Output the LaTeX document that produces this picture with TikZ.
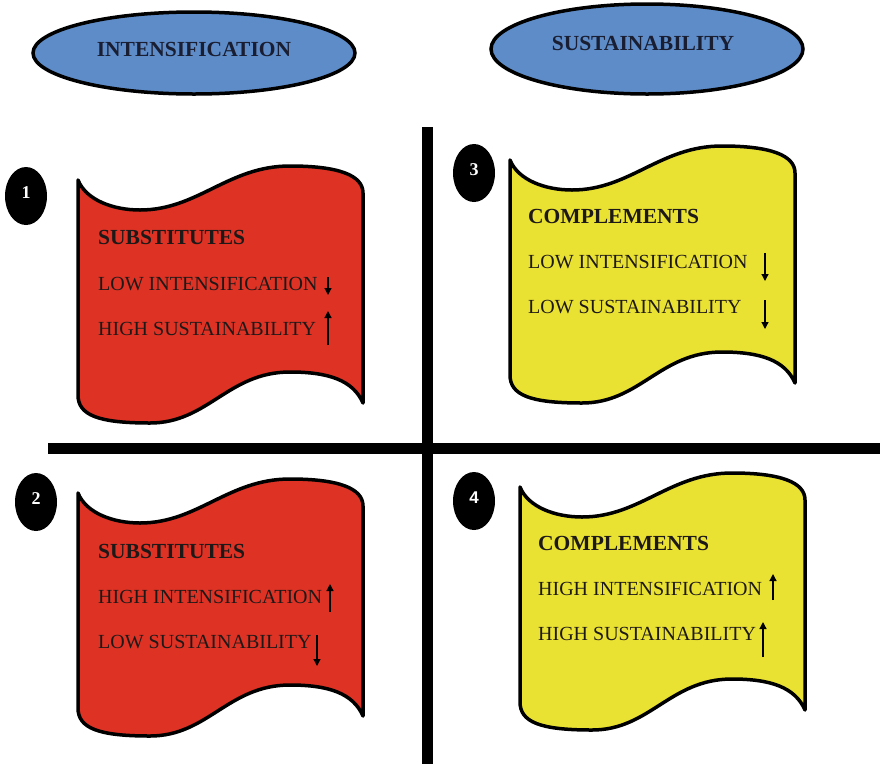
\documentclass[tikz,border=0pt]{standalone}
\usepackage{fontspec}
\setmainfont{Liberation Serif}
\newfontfamily\numsans{Liberation Sans}
\usetikzlibrary{arrows.meta,shapes.geometric}
\definecolor{flagred}{RGB}{222,50,36}
\definecolor{flagyellow}{RGB}{234,226,50}
\definecolor{ovalblue}{RGB}{94,140,200}
\definecolor{txtdark}{RGB}{30,25,25}
\definecolor{ovaltxt}{RGB}{25,30,50}
\tikzset{
  oval/.style={ellipse, draw=black, line width=3.5pt, fill=ovalblue, inner sep=0pt},
  ovaltext/.style={font=\fontsize{21.5}{24}\selectfont\bfseries, text=ovaltxt, inner sep=0pt},
  bannerline/.style={draw=black, line width=3.5pt, line join=round},
  headtext/.style={font=\fontsize{21.5}{24}\selectfont\bfseries, text=txtdark, anchor=base west, inner sep=0pt},
  itemtext/.style={font=\fontsize{20}{24}\selectfont, text=txtdark, anchor=base west, inner sep=0pt},
  numoval/.style={ellipse, fill=black, minimum width=42pt, minimum height=58pt, inner sep=0pt},
  numtext/.style={font=\fontsize{18}{20}\selectfont\bfseries, text=white, inner sep=0pt},
  trendarrow/.style={-{Triangle[width=7pt,length=7pt]}, line width=1.3pt, black},
  divider/.style={line width=10.5pt, black, line cap=butt}
}
\newcommand{\wavebanner}[3]{%
  \path[bannerline, fill=#3, shift={(#1,#2)}]
    (0,0) .. controls (8,20) and (35,30) .. (62,30)
    .. controls (120,30) and (150,-14) .. (212,-14)
    .. controls (260,-14) and (285,-5) .. (285,13)
    -- (285,223)
    .. controls (275,200) and (250,192) .. (212,192)
    .. controls (150,192) and (130,243) .. (72,243)
    .. controls (20,243) and (0,235) .. (0,215)
    -- cycle;}
\begin{document}
\begin{tikzpicture}[x=1pt,y=-1pt]
\useasboundingbox (0,0) rectangle (880,764);

% header ovals
\node[oval, minimum width=322pt, minimum height=82pt] (ovalA) at (194,53) {};
\node[ovaltext] (ovalAtext) at (194,49) {INTENSIFICATION};
\node[oval, minimum width=312pt, minimum height=90pt] (ovalB) at (647,49) {};
\node[ovaltext] (ovalBtext) at (643,43) {SUSTAINABILITY};

% dividers
\coordinate (vtop) at (427.5,127);
\coordinate (vbot) at (427.5,764);
\coordinate (hleft) at (48,448.5);
\coordinate (hright) at (880,448.5);
\draw[divider] (vtop) -- (vbot);
\draw[divider] (hleft) -- (hright);

% banners
\wavebanner{78}{180}{flagred}
\wavebanner{78}{493}{flagred}
\wavebanner{510}{160}{flagyellow}
\wavebanner{520}{487}{flagyellow}

% number badges
\node[numoval] (n1) at (26,196) {};
\node[numtext] (n1t) at (26,193) {1};
\node[numoval] (n2) at (36,502) {};
\node[numtext] (n2t) at (36,499) {2};
\node[numoval] (n3) at (474,173) {};
\node[numtext] (n3t) at (474,170) {3};
\node[numoval] (n4) at (474,501) {};
\node[numtext, font=\fontsize{17}{20}\selectfont\numsans\bfseries] (n4t) at (474,498) {4};

% quadrant 1
\node[headtext] (q1h) at (98,244) {SUBSTITUTES};
\node[itemtext] (q1a) at (98,290) {LOW INTENSIFICATION};
\node[itemtext] (q1b) at (98,335) {HIGH SUSTAINABILITY};
\coordinate (q1a1) at (328,277); \coordinate (q1a2) at (328,295);
\coordinate (q1b1) at (328,345); \coordinate (q1b2) at (328,311);
\draw[trendarrow] (q1a1) -- (q1a2);
\draw[trendarrow] (q1b1) -- (q1b2);

% quadrant 3
\node[headtext] (q3h) at (528,223) {COMPLEMENTS};
\node[itemtext] (q3a) at (528,268) {LOW INTENSIFICATION};
\node[itemtext] (q3b) at (528,313) {LOW SUSTAINABILITY};
\coordinate (q3a1) at (765,253); \coordinate (q3a2) at (765,281);
\coordinate (q3b1) at (765,300); \coordinate (q3b2) at (765,329);
\draw[trendarrow] (q3a1) -- (q3a2);
\draw[trendarrow] (q3b1) -- (q3b2);

% quadrant 2
\node[headtext] (q2h) at (98,558) {SUBSTITUTES};
\node[itemtext] (q2a) at (98,603) {HIGH INTENSIFICATION};
\node[itemtext] (q2b) at (98,648) {LOW SUSTAINABILITY};
\coordinate (q2a1) at (330,612); \coordinate (q2a2) at (330,584);
\coordinate (q2b1) at (317,635); \coordinate (q2b2) at (317,666);
\draw[trendarrow] (q2a1) -- (q2a2);
\draw[trendarrow] (q2b1) -- (q2b2);

% quadrant 4
\node[headtext] (q4h) at (538,550) {COMPLEMENTS};
\node[itemtext] (q4a) at (538,595) {HIGH INTENSIFICATION};
\node[itemtext] (q4b) at (538,640) {HIGH SUSTAINABILITY};
\coordinate (q4a1) at (773,600); \coordinate (q4a2) at (773,574);
\coordinate (q4b1) at (763,657); \coordinate (q4b2) at (763,622);
\draw[trendarrow] (q4a1) -- (q4a2);
\draw[trendarrow] (q4b1) -- (q4b2);
\end{tikzpicture}
\end{document}
